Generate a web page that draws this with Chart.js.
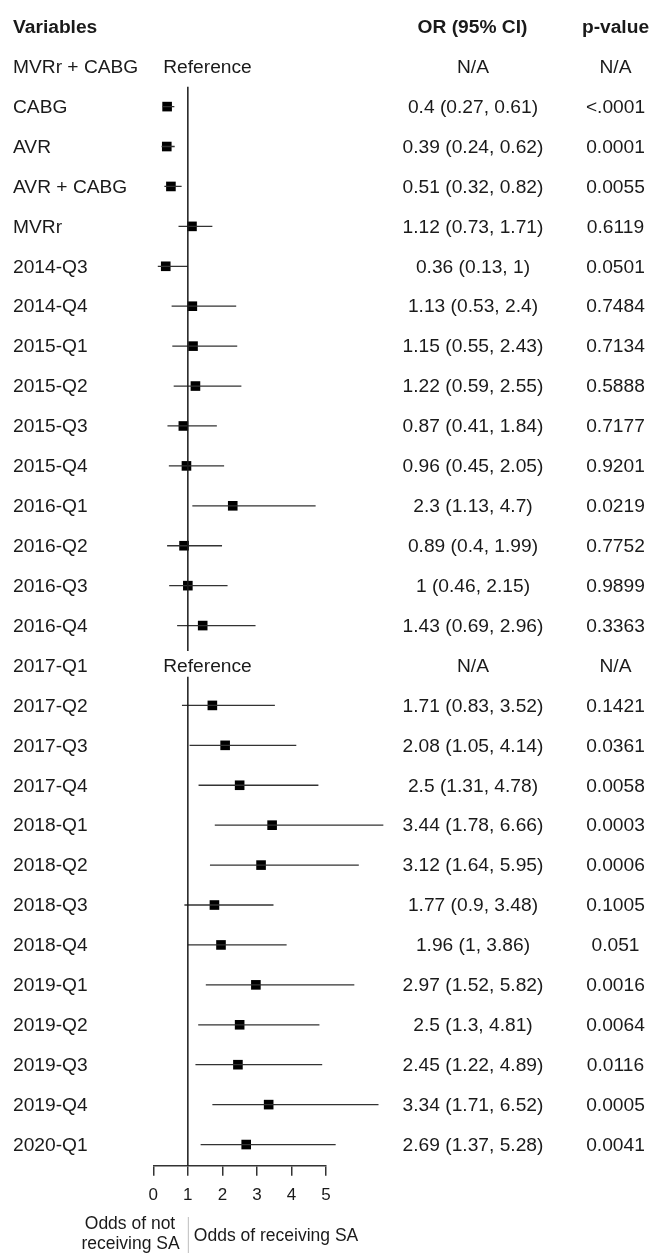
<!DOCTYPE html>
<html>
<head>
<meta charset="utf-8">
<title>Odds of receiving SA</title>
<script src="https://cdn.jsdelivr.net/npm/chart.js@4/dist/chart.umd.min.js"></script>
<style>
  html, body { margin: 0; padding: 0; background: #ffffff; }
  canvas { display: block; }
</style>
</head>
<body>
<canvas id="forest" width="668" height="1257"></canvas>
<script>
// Row labels, top to bottom
const variables = ['MVRr + CABG', 'CABG', 'AVR', 'AVR + CABG', 'MVRr',
  '2014-Q3', '2014-Q4', '2015-Q1', '2015-Q2', '2015-Q3', '2015-Q4',
  '2016-Q1', '2016-Q2', '2016-Q3', '2016-Q4', '2017-Q1', '2017-Q2',
  '2017-Q3', '2017-Q4', '2018-Q1', '2018-Q2', '2018-Q3', '2018-Q4',
  '2019-Q1', '2019-Q2', '2019-Q3', '2019-Q4', '2020-Q1'];

// Odds ratios and 95% confidence limits (null = reference category)
const oddsRatio = [null, 0.4, 0.39, 0.51, 1.12, 0.36, 1.13, 1.15, 1.22, 0.87, 0.96,
  2.3, 0.89, 1, 1.43, null, 1.71, 2.08, 2.5, 3.44, 3.12, 1.77, 1.96,
  2.97, 2.5, 2.45, 3.34, 2.69];
const ciLower = [null, 0.27, 0.24, 0.32, 0.73, 0.13, 0.53, 0.55, 0.59, 0.41, 0.45,
  1.13, 0.4, 0.46, 0.69, null, 0.83, 1.05, 1.31, 1.78, 1.64, 0.9, 1,
  1.52, 1.3, 1.22, 1.71, 1.37];
const ciUpper = [null, 0.61, 0.62, 0.82, 1.71, 1, 2.4, 2.43, 2.55, 1.84, 2.05,
  4.7, 1.99, 2.15, 2.96, null, 3.52, 4.14, 4.78, 6.66, 5.95, 3.48, 3.86,
  5.82, 4.81, 4.89, 6.52, 5.28];
const pValues = ['N/A', '<.0001', '0.0001', '0.0055', '0.6119', '0.0501', '0.7484',
  '0.7134', '0.5888', '0.7177', '0.9201', '0.0219', '0.7752', '0.9899', '0.3363',
  'N/A', '0.1421', '0.0361', '0.0058', '0.0003', '0.0006', '0.1005', '0.051',
  '0.0016', '0.0064', '0.0116', '0.0005', '0.0041'];

// Axis ticks
const xTicks = [0, 1, 2, 3, 4, 5];
const nullEffect = 1;

const FONT = '"Liberation Sans", Arial, Helvetica, sans-serif';
const TEXT = '#1a1a1a';

// Whisker segments, separated by gaps
const whiskers = [];
variables.forEach((v, i) => {
  if (oddsRatio[i] === null) return;
  whiskers.push({ x: ciLower[i], y: i }, { x: ciUpper[i], y: i }, { x: null, y: null });
});

const points = [];
variables.forEach((v, i) => {
  if (oddsRatio[i] !== null) points.push({ x: oddsRatio[i], y: i });
});

// Vertical line at OR = 1, interrupted at the reference rows
const Y_MIN = -1.5, Y_MAX = 27.53;
const refRows = variables.map((v, i) => i).filter(i => oddsRatio[i] === null);
const refLine = [];
let start = refRows[0] + 0.5;
refRows.slice(1).forEach(r => {
  refLine.push({ x: nullEffect, y: start }, { x: nullEffect, y: r - 0.36 }, { x: null, y: null });
  start = r + 0.28;
});
refLine.push({ x: nullEffect, y: start }, { x: nullEffect, y: Y_MAX });

const fmt = v => String(v);

const tablePlugin = {
  id: 'forestTable',
  afterDraw(chart) {
    const ctx = chart.ctx;
    const y = chart.scales.y;
    ctx.save();
    ctx.fillStyle = TEXT;
    ctx.textBaseline = 'middle';

    // Header
    ctx.font = 'bold 19.2px ' + FONT;
    const hy = y.getPixelForValue(-1) + 0.5;
    ctx.textAlign = 'left';
    ctx.fillText('Variables', 13, hy);
    ctx.textAlign = 'center';
    ctx.fillText('OR (95% CI)', 472.5, hy);
    ctx.fillText('p-value', 615.5, hy);

    // Rows
    ctx.font = '19.2px ' + FONT;
    variables.forEach((v, i) => {
      const py = y.getPixelForValue(i) + 1;
      ctx.textAlign = 'left';
      ctx.fillText(v, 13, py);
      ctx.textAlign = 'center';
      if (oddsRatio[i] === null) {
        ctx.fillText('Reference', 207.5, py);
        ctx.fillText('N/A', 473, py);
      } else {
        ctx.fillText(fmt(oddsRatio[i]) + ' (' + fmt(ciLower[i]) + ', ' + fmt(ciUpper[i]) + ')', 473, py);
      }
      ctx.fillText(pValues[i], 615.5, py);
    });

    // Direction labels under the axis
    const xs = chart.scales.x;
    const sepX = xs.getPixelForValue(nullEffect);
    ctx.font = '17.5px ' + FONT;
    ctx.textAlign = 'center';
    ctx.fillText('Odds of not', 130, 1224);
    ctx.fillText('receiving SA', 130.5, 1244);
    ctx.textAlign = 'left';
    ctx.fillText('Odds of receiving SA', sepX + 6, 1236.5);
    ctx.strokeStyle = '#bdbdbd';
    ctx.lineWidth = 1;
    ctx.beginPath();
    ctx.moveTo(sepX + 0.5, 1217);
    ctx.lineTo(sepX + 0.5, 1253);
    ctx.stroke();
    ctx.restore();
  }
};

new Chart(document.getElementById('forest'), {
  type: 'scatter',
  data: {
    datasets: [
      {
        type: 'line',
        data: refLine,
        borderColor: '#1a1a1a',
        borderWidth: 1.5,
        pointRadius: 0,
        spanGaps: false,
        clip: false
      },
      {
        type: 'line',
        data: whiskers,
        borderColor: '#333333',
        borderWidth: 1.3,
        pointRadius: 0,
        spanGaps: false,
        clip: false
      },
      {
        data: points,
        pointStyle: 'rect',
        pointRadius: 6.8,
        pointHoverRadius: 6.8,
        backgroundColor: '#000000',
        borderWidth: 0,
        showLine: false,
        clip: false
      }
    ]
  },
  options: {
    responsive: false,
    animation: false,
    events: [],
    layout: { padding: { left: 153.3, right: 342, top: 0, bottom: 0 } },
    plugins: { legend: { display: false }, tooltip: { enabled: false } },
    scales: {
      x: {
        type: 'linear',
        min: xTicks[0],
        max: xTicks[xTicks.length - 1],
        afterBuildTicks(scale) { scale.ticks = xTicks.map(v => ({ value: v })); },
        afterFit(scale) { scale.height = 91.3; },
        ticks: {
          font: { family: FONT, size: 17 },
          color: TEXT,
          padding: 9,
          maxRotation: 0,
          autoSkip: false
        },
        grid: {
          drawOnChartArea: false,
          drawTicks: true,
          tickLength: 10,
          color: '#333333',
          lineWidth: 1.5
        },
        border: { display: true, color: '#333333', width: 1.5 }
      },
      y: {
        type: 'linear',
        min: Y_MIN,
        max: Y_MAX,
        reverse: true,
        display: false
      }
    }
  },
  plugins: [tablePlugin]
});
</script>
</body>
</html>
